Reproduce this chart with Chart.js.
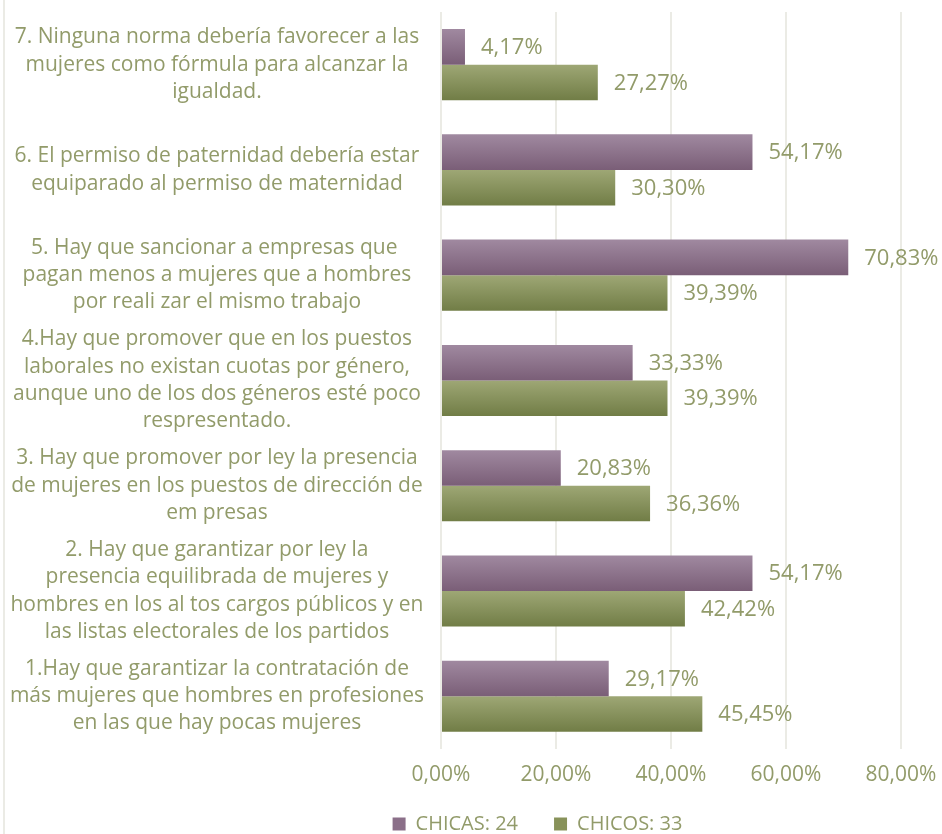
<!DOCTYPE html>
<html>
<head>
<meta charset="utf-8">
<script src="https://cdn.jsdelivr.net/npm/chart.js@4/dist/chart.umd.min.js"></script>
<style>
  html, body { margin: 0; padding: 0; background: #fff; overflow: hidden; }
  #wrap { position: relative; width: 942px; height: 834px; }
  #edge { position: absolute; left: 3px; top: 0; width: 2px; height: 834px; background: #ebebe5; }
  canvas { display: block; }
</style>
</head>
<body>
<div id="wrap">
  <div id="edge"></div>
  <canvas id="chart" width="942" height="834"></canvas>
</div>
<script>
var questions = [
    ["7. Ninguna norma debería favorecer a las", "mujeres como fórmula para alcanzar la", "igualdad."],
    ["6. El permiso de paternidad debería estar", "equiparado al permiso de maternidad"],
    ["5. Hay que sancionar a empresas que ", "pagan menos a mujeres que a hombres", "por reali zar el mismo trabajo"],
    ["4.Hay que promover que en los puestos", "laborales no existan cuotas por género,", "aunque uno de los dos géneros esté poco", "respresentado."],
    ["3. Hay que promover por ley la presencia", "de mujeres en los puestos de dirección de", "em presas"],
    ["2. Hay que garantizar por ley la", "presencia equilibrada de mujeres y", "hombres en los al tos cargos públicos y en", "las listas electorales de los partidos"],
    ["1.Hay que garantizar la contratación de", "más mujeres que hombres en profesiones", "en las que hay pocas mujeres"]
];
var chicas = [4.17, 54.17, 70.83, 33.33, 20.83, 54.17, 29.17];
var chicos = [27.27, 30.30, 39.39, 39.39, 36.36, 42.42, 45.45];
var xTickLabels = ["0,00%", "20,00%", "40,00%", "60,00%", "80,00%"];

var textColor = "#929b6a";
var fontFamily = "'Open Sans', Lato, sans-serif";

function barGradient(top, bottom, flat) {
    return function(context) {
        var el = context.element;
        if (!el || !el.height) return flat;
        var g = context.chart.ctx.createLinearGradient(0, el.y - el.height / 2, 0, el.y + el.height / 2);
        g.addColorStop(0, top);
        g.addColorStop(1, bottom);
        return g;
    };
}

// value labels to the right of each bar
var valueLabels = {
    id: 'valueLabels',
    afterDatasetsDraw: function(chart) {
        var ctx = chart.ctx;
        ctx.save();
        ctx.font = "22px " + fontFamily;
        ctx.fillStyle = textColor;
        ctx.textAlign = 'left';
        ctx.textBaseline = 'middle';
        chart.data.datasets.forEach(function(ds, i) {
            chart.getDatasetMeta(i).data.forEach(function(bar, j) {
                var txt = ds.data[j].toFixed(2).replace('.', ',') + '%';
                ctx.fillText(txt, bar.x + 16, bar.y + 1);
            });
        });
        ctx.restore();
    }
};

// keep the legend short and nudge it like in the original
var legendTweak = {
    id: 'legendTweak',
    beforeLayout: function(chart) {
        var lg = chart.legend;
        if (lg && !lg._patched) {
            var fit = lg.fit;
            lg.fit = function() { fit.call(this); this.height = 32; };
            lg._patched = true;
        }
    },
    afterLayout: function(chart) {
        var lg = chart.legend;
        lg.left += 83; lg.right += 83;
        lg.top -= 24;
        lg.height = lg.bottom - lg.top;
    }
};

var legendColors = ["#8b6f89", "#88925a"];

var data = {
    labels: questions,
    datasets: [
        {
            label: "CHICAS: 24",
            data: chicas,
            backgroundColor: barGradient("#a089a0", "#7a5e77", legendColors[0])
        },
        {
            label: "CHICOS: 33",
            data: chicos,
            backgroundColor: barGradient("#9ea775", "#717d46", legendColors[1])
        }
    ]
};

var options = {
    indexAxis: 'y',
    responsive: false,
    animation: false,
    categoryPercentage: 0.675,
    barPercentage: 1,
    layout: { padding: { left: 8, right: 41, top: 12, bottom: 0 } },
    scales: {
        x: {
            min: 0,
            max: 80,
            ticks: {
                stepSize: 20,
                color: textColor,
                font: { family: fontFamily, size: 21 },
                padding: 14,
                callback: function(value) { return xTickLabels[value / 20]; }
            },
            grid: { color: "#ebebe5", lineWidth: 2, drawTicks: false },
            border: { display: false },
            afterFit: function(scale) {
                scale.paddingLeft = 0;
                scale.paddingRight = 0;
            }
        },
        y: {
            ticks: {
                autoSkip: false,
                crossAlign: 'center',
                color: textColor,
                padding: 17,
                font: { family: fontFamily, size: 21, lineHeight: 1.3 }
            },
            grid: { display: false, drawTicks: false },
            border: { display: false },
            afterFit: function(scale) {
                scale.width = 433;
                scale.paddingTop = 0;
                scale.paddingBottom = 0;
            }
        }
    },
    plugins: {
        legend: {
            position: 'bottom',
            labels: {
                color: textColor,
                font: { family: fontFamily, size: 20 },
                boxWidth: 13,
                boxHeight: 13,
                padding: 36,
                generateLabels: function(chart) {
                    var items = Chart.defaults.plugins.legend.labels.generateLabels(chart);
                    items.forEach(function(it, k) {
                        it.fillStyle = legendColors[k];
                        it.strokeStyle = legendColors[k];
                        it.lineWidth = 0;
                    });
                    return items;
                }
            }
        },
        tooltip: { enabled: false }
    }
};

var ctx = document.getElementById("chart").getContext("2d");
var chart = new Chart(ctx, { type: 'bar', data: data, options: options, plugins: [valueLabels, legendTweak] });
chart.update();
</script>
</body>
</html>
